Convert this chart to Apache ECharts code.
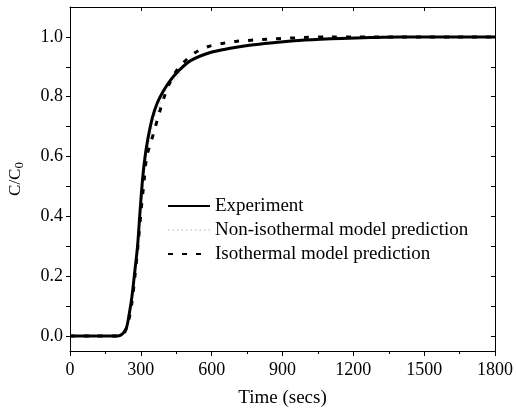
<!DOCTYPE html>
<html>
<head>
<meta charset="utf-8">
<script src="https://cdn.jsdelivr.net/npm/echarts@6/dist/echarts.min.js"></script>
<style>
  html, body { margin: 0; padding: 0; background: #fff; }
  #main { width: 516px; height: 410px; }
</style>
</head>
<body>
<div id="main"></div>
<script>
// 实验数据 (Time in secs, C/C0)
var expTime = [0, 100, 200, 215, 228, 240, 250, 262, 275, 286, 297, 308, 318, 330, 349, 370, 396, 425, 458, 509, 594, 679, 760, 849, 950, 1061, 1150, 1273, 1400, 1600, 1800];
var expC = [0, 0, 0, 0.003, 0.012, 0.03, 0.07, 0.13, 0.22, 0.3, 0.42, 0.53, 0.6, 0.66, 0.73, 0.78, 0.82, 0.855, 0.885, 0.92, 0.948, 0.962, 0.972, 0.98, 0.987, 0.992, 0.995, 0.998, 1.0, 1.0, 1.0];
// 非等温模型
var nonIsoTime = [0, 100, 205, 220, 232, 245, 258, 270, 282, 294, 306, 318, 332, 352, 375, 400, 432, 460, 481, 520, 600, 700, 800, 900, 1000, 1100, 1200, 1300, 1400, 1600, 1800];
var nonIsoC = [0, 0, 0, 0.005, 0.015, 0.045, 0.1, 0.18, 0.27, 0.37, 0.48, 0.57, 0.64, 0.71, 0.765, 0.81, 0.848, 0.87, 0.898, 0.925, 0.952, 0.968, 0.979, 0.987, 0.993, 0.998, 1.001, 1.003, 1.002, 1.0, 1.0];
// 等温模型
var isoTime = [0, 100, 215, 230, 245, 260, 275, 290, 300, 314, 325, 344, 361, 379, 396, 417, 445, 480, 531, 586, 650, 700, 835, 990, 1100, 1400, 1800];
var isoC = [0, 0, 0, 0.01, 0.04, 0.1, 0.2, 0.32, 0.41, 0.52, 0.6, 0.651, 0.698, 0.748, 0.792, 0.837, 0.88, 0.914, 0.948, 0.968, 0.979, 0.985, 0.992, 0.998, 1.0, 1.0, 1.0];
// 刻度
var xTicks = [0, 300, 600, 900, 1200, 1500, 1800];
var yTicks = [0, 0.2, 0.4, 0.6, 0.8, 1.0];
var yMinorTicks = [0, 0.1, 0.2, 0.3, 0.4, 0.5, 0.6, 0.7, 0.8, 0.9, 1.0];

function pairs(t, c) {
  return t.map(function (v, i) { return [v, c[i]]; });
}

var font = 'Liberation Serif';
var myChart = echarts.init(document.getElementById('main'));

var baseX = {
  type: 'value', min: 0, max: 1800, interval: 300,
  axisLine: { show: true, onZero: false, lineStyle: { color: '#000', width: 1 } },
  splitLine: { show: false },
  minorTick: { show: true, splitNumber: 2, length: 3, lineStyle: { color: '#000' } },
  axisTick: { length: 5, lineStyle: { color: '#000' } }
};
var baseY = {
  type: 'value', min: -0.05, max: 1.1,
  axisLine: { show: true, onZero: false, lineStyle: { color: '#000', width: 1 } },
  splitLine: { show: false },
  axisTick: { length: 4, customValues: yMinorTicks, lineStyle: { color: '#000' } }
};

var o = {
  backgroundColor: '#fff',
  animation: false,
  grid: { left: 70, right: 21, top: 7, bottom: 59, containLabel: false, outerBoundsMode: 'none' },
  xAxis: [
    Object.assign({}, baseX, {
      position: 'bottom',
      name: 'Time (secs)', nameLocation: 'middle', nameGap: 38,
      nameTextStyle: { fontFamily: font, fontSize: 19, color: '#000' },
      axisTick: { length: 5, inside: false, lineStyle: { color: '#000' } },
      axisLabel: {
        fontFamily: font, fontSize: 18, color: '#000', margin: 10, customValues: xTicks,
        formatter: function (v) { return String(v); }
      }
    }),
    Object.assign({}, baseX, {
      position: 'top',
      axisTick: { length: 4, inside: true, lineStyle: { color: '#000' } },
      minorTick: { show: false },
      axisLabel: { show: false }
    })
  ],
  yAxis: [
    Object.assign({}, baseY, {
      position: 'left',
      name: 'C/C{sub|0}', nameLocation: 'middle', nameGap: 44,
      nameTextStyle: {
        fontFamily: font, fontSize: 17, color: '#000',
        rich: { sub: { fontFamily: font, fontSize: 13, color: '#000', verticalAlign: 'bottom', padding: [8, 0, 0, 0] } }
      },
      axisTick: { length: 4, inside: false, customValues: yMinorTicks, lineStyle: { color: '#000' } },
      axisLabel: {
        fontFamily: font, fontSize: 18, color: '#000', margin: 7, customValues: yTicks,
        formatter: function (v) { return v.toFixed(1); }
      }
    }),
    Object.assign({}, baseY, {
      position: 'right',
      axisTick: { length: 4, inside: true, customValues: yMinorTicks, lineStyle: { color: '#000' } },
      axisLabel: { show: false }
    })
  ],
  legend: {
    orient: 'vertical', left: 162, top: 191,
    itemWidth: 42, itemHeight: 14, itemGap: 4,
    itemStyle: { opacity: 0 },
    textStyle: { fontFamily: font, fontSize: 19, lineHeight: 20, color: '#000' },
    data: ['Experiment', 'Non-isothermal model prediction', 'Isothermal model prediction']
  },
  series: [
    {
      name: 'Experiment', type: 'line', data: pairs(expTime, expC),
      symbol: 'none', smooth: 0.3, z: 3,
      lineStyle: { color: '#000', width: 3 }, itemStyle: { color: '#000' }
    },
    {
      name: 'Non-isothermal model prediction', type: 'line', data: pairs(nonIsoTime, nonIsoC),
      symbol: 'none', smooth: 0.3, z: 2,
      lineStyle: { color: '#d8d8d8', width: 1.5, type: [1.5, 3] }, itemStyle: { color: '#d8d8d8' }
    },
    {
      name: 'Isothermal model prediction', type: 'line', data: pairs(isoTime, isoC),
      symbol: 'none', smooth: 0.3, z: 4,
      lineStyle: { color: '#000', width: 3, type: [5, 9] }, itemStyle: { color: '#000' }
    }
  ]
};

myChart.setOption(o);
</script>
</body>
</html>
